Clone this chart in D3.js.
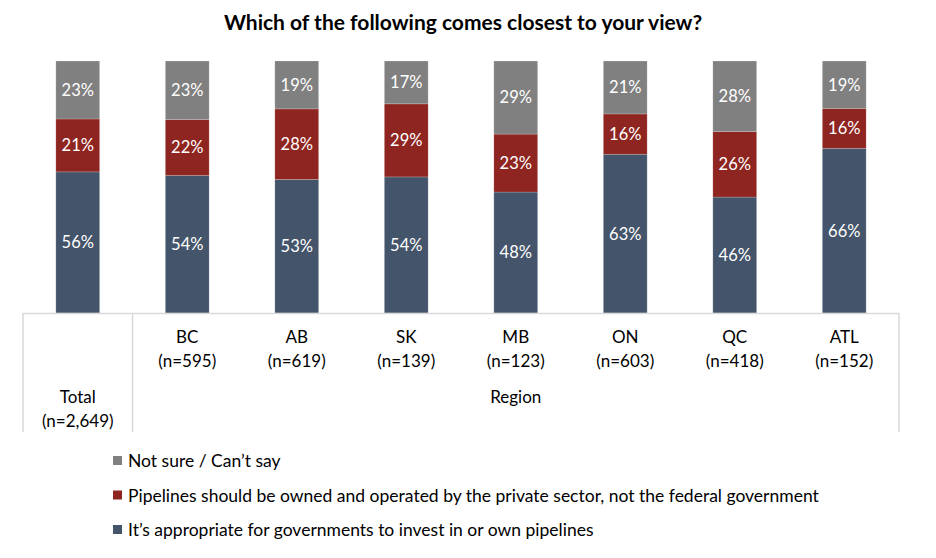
<!DOCTYPE html>
<html>
<head>
<meta charset="utf-8">
<script src="https://cdn.jsdelivr.net/npm/d3@7"></script>
<style>
  body { margin: 0; background: #fff; }
  svg text { font-family: Lato, "Noto Sans", sans-serif; }
</style>
</head>
<body>
<svg id="chart" width="936" height="558"></svg>
<script>
// values
var categories = ['Total', 'BC', 'AB', 'SK', 'MB', 'ON', 'QC', 'ATL'];
var sampleSizes = ['(n=2,649)', '(n=595)', '(n=619)', '(n=139)', '(n=123)', '(n=603)', '(n=418)', '(n=152)'];
var governmentInvest = [56, 54, 53, 54, 48, 63, 46, 66];
var privateSector = [21, 22, 28, 29, 23, 16, 26, 16];
var notSure = [23, 23, 19, 17, 29, 21, 28, 19];

var seriesKeys = ['gov', 'priv', 'unsure'];
var seriesNames = {
  gov: 'It\u2019s appropriate for governments to invest in or own pipelines',
  priv: 'Pipelines should be owned and operated by the private sector, not the federal government',
  unsure: 'Not sure / Can\u2019t say'
};
var colors = { gov: '#44546a', priv: '#8e2520', unsure: '#808080' };

var rows = categories.map(function(c, i) {
  return { cat: c, gov: governmentInvest[i], priv: privateSector[i], unsure: notSure[i] };
});

var svg = d3.select('#chart');

var plotLeft = 23, plotRight = 899, plotTop = 61, plotBase = 313;

var x = d3.scaleBand().domain(categories).range([plotLeft, plotRight]).paddingInner(0.6).paddingOuter(0.3);
var y = d3.scaleLinear().domain([0, 1]).range([plotBase, plotTop]);

// 100% stacked, like the original
var stack = d3.stack().keys(seriesKeys).offset(d3.stackOffsetExpand);
var layers = stack(rows);

var g = svg.append('g');

var layer = g.selectAll('g.layer')
    .data(layers)
    .enter().append('g')
    .attr('class', 'layer')
    .attr('fill', function(d) { return colors[d.key]; });

layer.selectAll('rect')
    .data(function(d) { return d; })
    .enter().append('rect')
    .attr('x', function(d) { return x(d.data.cat); })
    .attr('width', x.bandwidth())
    .attr('y', function(d) { return y(d[1]); })
    .attr('height', function(d) { return y(d[0]) - y(d[1]); })
    .attr('stroke', '#ffffff')
    .attr('stroke-opacity', 0.25)
    .attr('stroke-width', 0.75);

layer.selectAll('text')
    .data(function(d) { return d.map(function(p) { return { p: p, key: d.key }; }); })
    .enter().append('text')
    .attr('x', function(d) { return x(d.p.data.cat) + x.bandwidth() / 2; })
    .attr('y', function(d) { return (y(d.p[0]) + y(d.p[1])) / 2; })
    .attr('dy', '0.36em')
    .attr('text-anchor', 'middle')
    .attr('fill', '#fff')
    .style('font-size', '16.5px')
    .text(function(d) { return d.p.data[d.key] + '%'; });

// category table lines under the bars
var lineColor = '#d9d9d9';
var tableBottom = 432;
var regionLeft = plotLeft + x.step();

svg.append('line')
    .attr('x1', plotLeft).attr('x2', plotRight).attr('y1', plotBase + 0.5).attr('y2', plotBase + 0.5)
    .attr('stroke', lineColor).attr('stroke-width', 1.5);

[plotLeft, regionLeft, plotRight].forEach(function(px) {
  svg.append('line')
      .attr('x1', px).attr('x2', px).attr('y1', plotBase).attr('y2', tableBottom)
      .attr('stroke', lineColor).attr('stroke-width', 1.5);
});

var axisText = svg.append('g').style('font-size', '17px').attr('fill', '#000').attr('text-anchor', 'middle');

categories.forEach(function(c, i) {
  var cx = x(c) + x.bandwidth() / 2;
  var y1 = i === 0 ? 403 : 343;
  axisText.append('text').attr('x', cx).attr('y', y1).text(c);
  axisText.append('text').attr('x', cx).attr('y', y1 + 24).text(sampleSizes[i]);
});

axisText.append('text')
    .attr('x', (regionLeft + plotRight) / 2)
    .attr('y', 403)
    .text('Region');

// title
svg.append('text')
    .attr('x', 463)
    .attr('y', 30)
    .attr('text-anchor', 'middle')
    .style('font-size', '21px')
    .style('font-weight', 'bold')
    .text('Which of the following comes closest to your view?');

// legend, top to bottom
var legendKeys = ['unsure', 'priv', 'gov'];
var legend = svg.append('g').selectAll('g')
    .data(legendKeys)
    .enter().append('g')
    .attr('transform', function(d, i) { return 'translate(113,' + (461 + i * 34.5) + ')'; });

legend.append('rect')
    .attr('x', 0).attr('y', -5).attr('width', 9).attr('height', 9)
    .attr('fill', function(d) { return colors[d]; });

legend.append('text')
    .attr('x', 15)
    .attr('dy', '0.36em')
    .style('font-size', '17.5px')
    .attr('fill', '#000')
    .text(function(d) { return seriesNames[d]; });
</script>
</body>
</html>
